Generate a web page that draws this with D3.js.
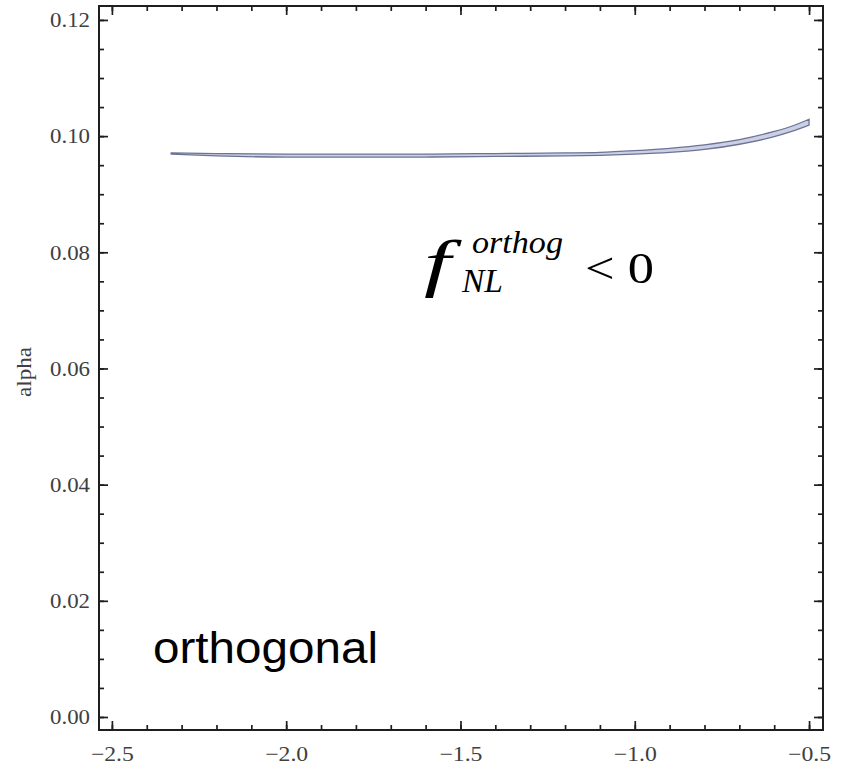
<!DOCTYPE html>
<html>
<head>
<meta charset="utf-8">
<script src="https://cdn.jsdelivr.net/npm/d3@7"></script>
<style>
  body { margin: 0; background: #fff; }
  svg { display: block; }
</style>
</head>
<body>
<div id="chart"></div>
<script>
// band data
let alphaX = [-2.33, -2.2, -2.0, -1.8, -1.6, -1.4, -1.2, -1.1, -1.0, -0.9, -0.8, -0.7, -0.6, -0.55, -0.5];
let alphaUpper = [0.0971, 0.0970, 0.0969, 0.0969, 0.0969, 0.0970, 0.0971, 0.0972, 0.0975, 0.0979, 0.0985, 0.0994, 0.1008, 0.1017, 0.1029];
let alphaLower = [0.0969, 0.0966, 0.0964, 0.0964, 0.0964, 0.0965, 0.0966, 0.0967, 0.0969, 0.0972, 0.0977, 0.0986, 0.0999, 0.1008, 0.1019];

let xTicks = [-2.5, -2.0, -1.5, -1.0, -0.5];
let yTicks = [0.00, 0.02, 0.04, 0.06, 0.08, 0.10, 0.12];
let xDomain = [-2.537, -0.46];
let yDomain = [-0.00224, 0.1224];

let width = 842;
let height = 767;
let margin = ({top: 6, right: 19, bottom: 37, left: 99});

let serif = "'Liberation Serif', 'Times New Roman', Times, Tinos, 'Nimbus Roman', serif";

let svg = d3.select("#chart").append("svg")
    .attr("width", width)
    .attr("height", height);

let xScale = d3.scaleLinear().domain(xDomain).range([margin.left, width - margin.right]);
let yScale = d3.scaleLinear().domain(yDomain).range([height - margin.bottom, margin.top]);

let data = alphaX.map(function(d, i) { return {x: d, hi: alphaUpper[i], lo: alphaLower[i]}; });

// the band
let area = d3.area()
    .x(function(d) { return xScale(d.x); })
    .y0(function(d) { return yScale(d.lo); })
    .y1(function(d) { return yScale(d.hi); })
    .curve(d3.curveMonotoneX);

svg.append("path")
    .datum(data)
    .attr("d", area)
    .attr("fill", "#ccd0e6")
    .attr("stroke", "#6c7393")
    .attr("stroke-width", 1.3);

// minor tick values
let xMinor = d3.range(-2.5, -0.49, 0.1);
let yMinor = d3.range(0, 0.1226, 0.005);

let fmtX = function(d) { return d3.format(".1f")(d).replace("-", "\u2212"); };
let fmtY = d3.format(".2f");

function styleAxis(g) {
  g.select(".domain").remove();
  g.selectAll("line").attr("stroke", "#1e1e1e").attr("stroke-width", 1.7);
  g.selectAll("text")
      .attr("fill", "#404040")
      .attr("font-family", serif)
      .attr("font-size", 21);
}

// minor ticks all four sides
svg.append("g").attr("transform", "translate(0," + (height - margin.bottom) + ")")
    .call(d3.axisBottom(xScale).tickValues(xMinor).tickSize(-5).tickFormat("")).call(styleAxis);
svg.append("g").attr("transform", "translate(0," + margin.top + ")")
    .call(d3.axisTop(xScale).tickValues(xMinor).tickSize(-5).tickFormat("")).call(styleAxis);
svg.append("g").attr("transform", "translate(" + margin.left + ",0)")
    .call(d3.axisLeft(yScale).tickValues(yMinor).tickSize(-5).tickFormat("")).call(styleAxis);
svg.append("g").attr("transform", "translate(" + (width - margin.right) + ",0)")
    .call(d3.axisRight(yScale).tickValues(yMinor).tickSize(-5).tickFormat("")).call(styleAxis);

// major ticks
let xAxis = svg.append("g").attr("transform", "translate(0," + (height - margin.bottom) + ")")
    .call(d3.axisBottom(xScale).tickValues(xTicks).tickSize(-9).tickPadding(16).tickFormat(fmtX)).call(styleAxis);
svg.append("g").attr("transform", "translate(0," + margin.top + ")")
    .call(d3.axisTop(xScale).tickValues(xTicks).tickSize(-9).tickFormat("")).call(styleAxis);
let yAxis = svg.append("g").attr("transform", "translate(" + margin.left + ",0)")
    .call(d3.axisLeft(yScale).tickValues(yTicks).tickSize(-9).tickPadding(9).tickFormat(fmtY)).call(styleAxis);
svg.append("g").attr("transform", "translate(" + (width - margin.right) + ",0)")
    .call(d3.axisRight(yScale).tickValues(yTicks).tickSize(-9).tickFormat("")).call(styleAxis);

// the labels look stretched sideways in the picture
function fitWidth(sel, w) {
  sel.attr("textLength", w).attr("lengthAdjust", "spacingAndGlyphs");
}
fitWidth(xAxis.selectAll("text"), 43);
fitWidth(yAxis.selectAll("text"), 40);

// frame
svg.append("rect")
    .attr("x", margin.left)
    .attr("y", margin.top)
    .attr("width", width - margin.left - margin.right)
    .attr("height", height - margin.top - margin.bottom)
    .attr("fill", "none")
    .attr("stroke", "#1e1e1e")
    .attr("stroke-width", 2);

// y label
let yLab = svg.append("text")
    .attr("transform", "translate(31,372) rotate(-90)")
    .attr("text-anchor", "middle")
    .attr("fill", "#404040")
    .attr("font-family", serif)
    .attr("font-size", 22)
    .text("alpha");
fitWidth(yLab, 50);

// annotations
svg.append("text")
    .attr("x", 153)
    .attr("y", 663)
    .attr("fill", "#000")
    .attr("font-family", "'Liberation Sans', Arial, sans-serif")
    .attr("font-size", 45)
    .attr("textLength", 225).attr("lengthAdjust", "spacingAndGlyphs")
    .text("orthogonal");

let fText = svg.append("g");
let fMain = fText.append("text")
    .attr("x", 424).attr("y", 284)
    .attr("font-family", serif).attr("font-style", "italic").attr("font-size", 64)
    .text("f");
fitWidth(fMain, fMain.node().getComputedTextLength() * 1.5);
fText.append("text")
    .attr("x", 472).attr("y", 253)
    .attr("font-family", serif).attr("font-style", "italic").attr("font-size", 31)
    .attr("textLength", 91).attr("lengthAdjust", "spacingAndGlyphs")
    .text("orthog");
fText.append("text")
    .attr("x", 462).attr("y", 292)
    .attr("font-family", serif).attr("font-style", "italic").attr("font-size", 33)
    .attr("textLength", 41).attr("lengthAdjust", "spacingAndGlyphs")
    .text("NL");
fText.append("text")
    .attr("x", 585).attr("y", 283)
    .attr("font-family", serif).attr("font-size", 45)
    .attr("textLength", 69).attr("lengthAdjust", "spacingAndGlyphs")
    .text("< 0");
</script>
</body>
</html>
